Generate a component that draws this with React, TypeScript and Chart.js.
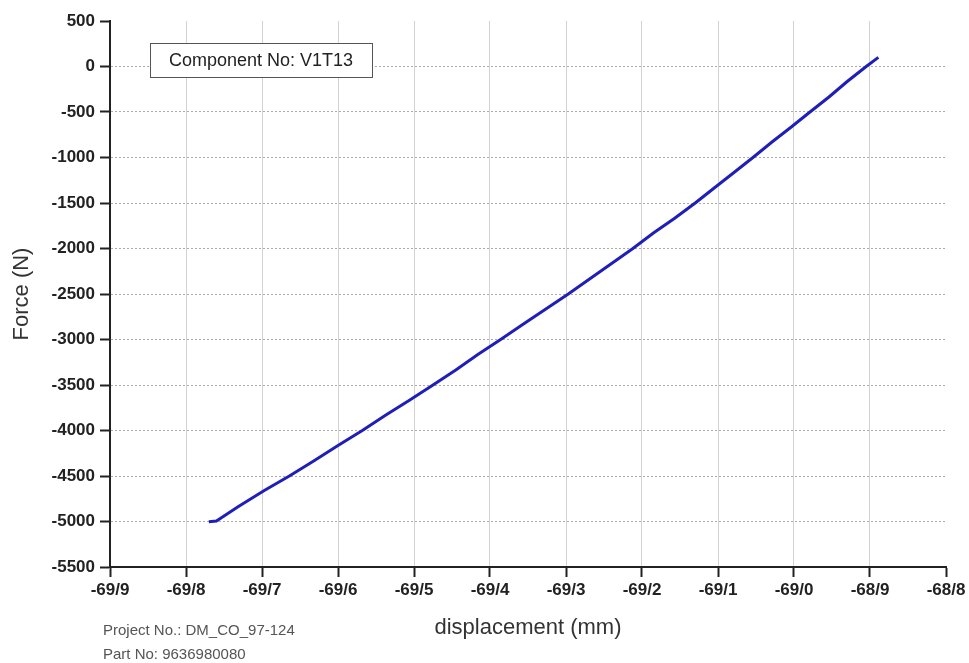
import React, { useEffect, useRef } from 'react';
import { Chart, registerables } from 'chart.js';

Chart.register(...registerables);

// Data series: displacement (mm) vs force (N)
const displacement = [
  -69.770, -69.760, -69.731, -69.697, -69.664, -69.632, -69.600, -69.568,
  -69.537, -69.506, -69.475, -69.445, -69.416, -69.386, -69.356, -69.327,
  -69.297, -69.269, -69.240, -69.212, -69.185, -69.157, -69.130, -69.105,
  -69.079, -69.054, -69.029, -69.004, -68.979, -68.954, -68.930, -68.905, -68.889,
];
const force = [
  -5003, -4995, -4835, -4660, -4500, -4335, -4165, -4000,
  -3830, -3668, -3500, -3335, -3165, -3000, -2830, -2668,
  -2500, -2335, -2165, -2000, -1830, -1668, -1500, -1335,
  -1165, -1000, -830, -668, -500, -335, -165, 0, 100,
];

const xTickValues = [-69.9, -69.8, -69.7, -69.6, -69.5, -69.4, -69.3, -69.2, -69.1, -69.0, -68.9, -68.8];
const xTickLabels = ['-69/9', '-69/8', '-69/7', '-69/6', '-69/5', '-69/4', '-69/3', '-69/2', '-69/1', '-69/0', '-68/9', '-68/8'];
const yTickValues = [500, 0, -500, -1000, -1500, -2000, -2500, -3000, -3500, -4000, -4500, -5000, -5500];

const componentLabel = 'Component No: V1T13';
const projectLabel = 'Project No.: DM_CO_97-124';
const partLabel = 'Part No: 9636980080';
const xTitle = 'displacement (mm)';
const yTitle = 'Force (N)';

const FONT = "'Liberation Sans', Arial, sans-serif";

export default function App() {
  const ref = useRef<HTMLCanvasElement>(null);

  useEffect(() => {
    const annotations = {
      id: 'annotations',
      afterDraw(chart: any) {
        const { ctx, chartArea } = chart;
        ctx.save();
        // Component box
        const bx = chartArea.left + 40;
        const by = chartArea.top + 22;
        const bw = 222;
        const bh = 34;
        ctx.fillStyle = '#ffffff';
        ctx.fillRect(bx, by, bw, bh);
        ctx.strokeStyle = '#555555';
        ctx.lineWidth = 1;
        ctx.strokeRect(bx + 0.5, by + 0.5, bw, bh);
        ctx.fillStyle = '#222222';
        ctx.font = `18px ${FONT}`;
        ctx.textAlign = 'center';
        ctx.textBaseline = 'middle';
        ctx.fillText(componentLabel, bx + bw / 2, by + bh / 2 + 1);
        // Footnotes
        ctx.fillStyle = '#555555';
        ctx.font = `15px ${FONT}`;
        ctx.textAlign = 'left';
        ctx.fillText(projectLabel, 103, 631);
        ctx.fillText(partLabel, 103, 655);
        ctx.restore();
      },
    };

    const chart = new Chart(ref.current!, {
      type: 'line',
      data: {
        datasets: [
          {
            data: displacement.map((x, i) => ({ x, y: force[i] })),
            borderColor: '#1f1fb8',
            borderWidth: 3,
            pointRadius: 0,
            tension: 0,
            fill: false,
          },
        ],
      },
      options: {
        animation: false,
        responsive: false,
        devicePixelRatio: 1,
        parsing: false,
        layout: { padding: { left: 5, top: 21, right: 23, bottom: 18 } },
        plugins: {
          legend: { display: false },
          tooltip: { enabled: false },
        },
        scales: {
          x: {
            type: 'linear',
            min: -69.9,
            max: -68.8,
            afterBuildTicks: (axis: any) => {
              axis.ticks = xTickValues.map((v) => ({ value: v }));
            },
            afterFit: (axis: any) => {
              axis.height = 78;
            },
            ticks: {
              callback: (_v: any, i: number) => xTickLabels[i],
              font: { family: FONT, size: 17, weight: 'bold' },
              color: '#222222',
              padding: 3,
              maxRotation: 0,
              autoSkip: false,
            },
            grid: {
              color: (c: any) => (c.tick && c.tick.value === -68.8 ? 'rgba(0,0,0,0)' : '#d2d2d2'),
              lineWidth: 1,
              tickColor: '#222222',
              tickLength: 10,
              tickWidth: 2,
            },
            border: { color: '#222222', width: 2 },
            title: {
              display: true,
              text: xTitle,
              font: { family: FONT, size: 22 },
              color: '#333333',
              padding: { top: 4, bottom: 4 },
            },
          },
          y: {
            type: 'linear',
            min: -5500,
            max: 500,
            afterBuildTicks: (axis: any) => {
              axis.ticks = yTickValues.map((v) => ({ value: v }));
            },
            afterFit: (axis: any) => {
              axis.width = 105;
            },
            ticks: {
              callback: (v: any) => String(v),
              font: { family: FONT, size: 17, weight: 'bold' },
              color: '#222222',
              padding: 5,
              autoSkip: false,
            },
            grid: {
              color: (c: any) => (c.tick && c.tick.value === 500 ? 'rgba(0,0,0,0)' : '#ababab'),
              lineWidth: 1,
              tickColor: '#222222',
              tickLength: 10,
              tickWidth: 2,
            },
            border: { color: '#222222', width: 2, dash: [2, 2] },
            title: {
              display: true,
              text: yTitle,
              font: { family: FONT, size: 22 },
              color: '#333333',
              padding: { top: 4, bottom: 4 },
            },
          },
        },
      },
      plugins: [annotations],
    } as any);

    return () => chart.destroy();
  }, []);

  return (
    <div style={{ position: 'absolute', left: 0, top: 0, width: 969, height: 663, background: '#ffffff' }}>
      <canvas ref={ref} width={969} height={663} style={{ display: 'block' }} />
    </div>
  );
}
